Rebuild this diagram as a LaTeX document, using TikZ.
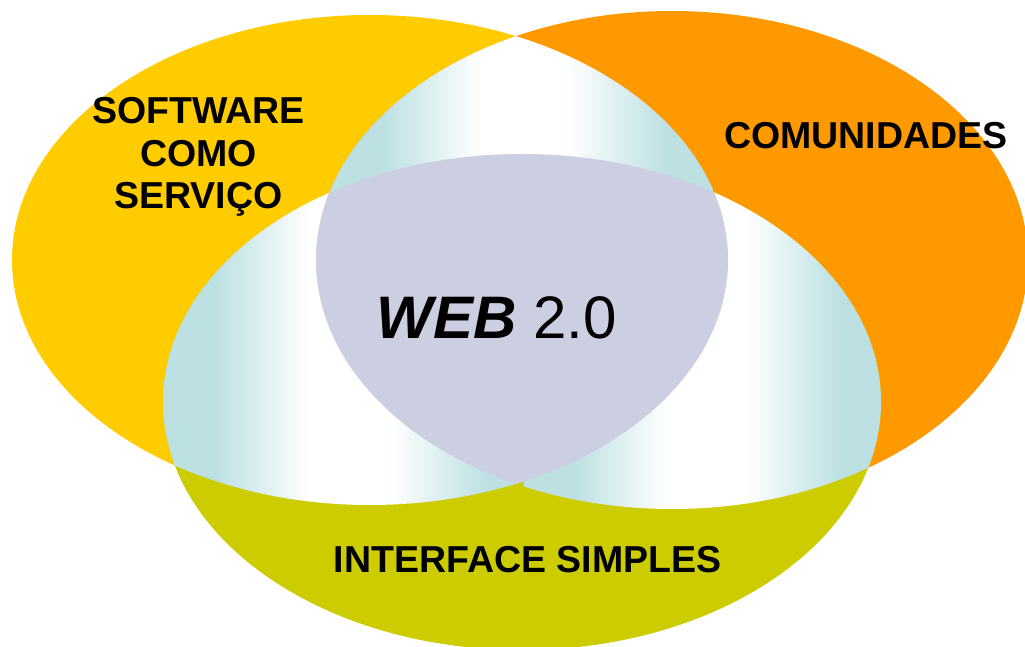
\documentclass[tikz,border=0pt]{standalone}
\usepackage{fontspec}
\setmainfont{Liberation Sans}
\definecolor{cyellow}{HTML}{FFCC00}
\definecolor{corange}{HTML}{FF9900}
\definecolor{colive}{HTML}{CCCC00}
\definecolor{clav}{HTML}{CCCFE2}
\definecolor{ccyan}{HTML}{BDE0E3}
\pgfdeclarehorizontalshading{lensshade}{100bp}{color(0bp)=(ccyan); color(32bp)=(ccyan); color(45bp)=(white); color(56bp)=(white); color(69bp)=(ccyan); color(100bp)=(ccyan)}
\tikzset{
  lbl/.style={font=\fontsize{37.5}{42.5}\selectfont\bfseries, inner sep=0pt, text=black},
}
\newcommand{\ellL}{(370,260) ellipse [x radius=358, y radius=245]}
\newcommand{\ellO}{(672,260) ellipse [x radius=356, y radius=249]}
\newcommand{\ellB}{(522,402) ellipse [x radius=359, y radius=248]}
\begin{document}
\begin{tikzpicture}[x=1pt,y=-1pt]
\useasboundingbox (0,0) rectangle (1025,647);
\fill[white] (0,0) rectangle (1025,647);
% base ellipses
\fill[cyellow] \ellL;
\fill[corange] \ellO;
\fill[colive] \ellB;
% pairwise lenses
\begin{scope}
  \clip \ellL; \clip \ellB;
  \shade[shading=lensshade] (163,140) rectangle (530,510);
\end{scope}
\begin{scope}
  \clip \ellO; \clip \ellB;
  \shade[shading=lensshade] (524,140) rectangle (882,510);
\end{scope}
\begin{scope}
  \clip \ellL; \clip \ellO;
  \shade[shading=lensshade] (328,20) rectangle (713,300);
\end{scope}
% centre
\begin{scope}
  \clip \ellL; \clip \ellO;
  \fill[clav] \ellB;
\end{scope}
% labels
\node[lbl, align=center, anchor=north] (sw) at (198.5,97.5) {SOFTWARE\\COMO\\SERVIÇO};
\node[lbl, anchor=base] (com) at (866,149) {COMUNIDADES};
\node[lbl, anchor=base] (int) at (527.5,572) {INTERFACE SIMPLES};
\node[inner sep=0pt, anchor=base, font=\fontsize{60}{72}\selectfont] (web) at (496.5,338) {{\bfseries\itshape WEB} 2.0};
\end{tikzpicture}
\end{document}
